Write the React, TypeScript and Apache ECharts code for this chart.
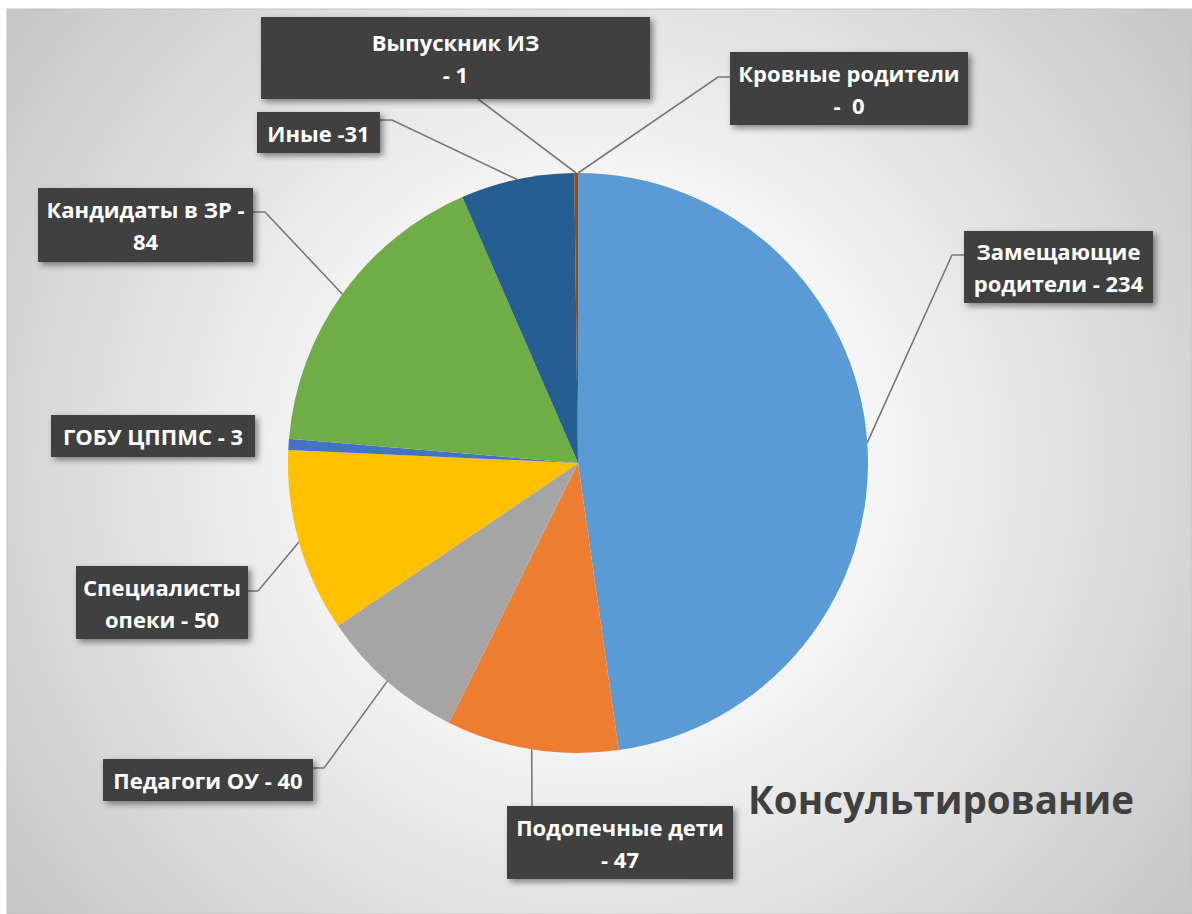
import React, { useEffect, useRef } from 'react';
import * as echarts from 'echarts';

// ---- data ----
const CATEGORIES = [
  'Замещающие родители',
  'Подопечные дети',
  'Педагоги ОУ',
  'Специалисты опеки',
  'ГОБУ ЦППМС',
  'Кандидаты в ЗР',
  'Иные',
  'Выпускник ИЗ',
  'Кровные родители',
];
const VALUES = [234, 47, 40, 50, 3, 84, 31, 1, 0];
const LABEL_TEMPLATES = [
  'Замещающие\nродители - {c}',
  'Подопечные дети\n- {c}',
  'Педагоги ОУ - {c}',
  'Специалисты\nопеки - {c}',
  'ГОБУ ЦППМС - {c}',
  'Кандидаты в ЗР -\n{c}',
  'Иные -{c}',
  'Выпускник ИЗ\n- {c}',
  'Кровные родители\n-  {c}',
];
const TITLE = 'Консультирование';

// ---- styles / layout ----
const COLORS = ['#5B9BD5', '#ED7D31', '#A5A5A5', '#FFC000', '#4472C4', '#70AD47', '#255E91', '#9E480E', '#636363'];
const FONT = '"Open Sans", "Noto Sans", sans-serif';
const LINE_H = 32;
// label boxes: [left, top, right, bottom]
const LABEL_BOXES: number[][] = [
  [964, 231, 1153, 303],
  [507, 806, 733, 879],
  [103, 759, 313, 801],
  [76, 566, 248, 639],
  [51, 415, 255, 457],
  [38, 188, 253, 262],
  [257, 112, 380, 153],
  [261, 17, 650, 99],
  [730, 52, 968, 125],
];
// leader line: bend point, end point (null = no leader)
const LEADERS: (number[][] | null)[] = [
  [[952, 255], [964, 255]],
  [[532, 806], [532, 806]],
  [[324, 768], [313, 768]],
  [[258, 591], [248, 591]],
  null,
  [[265, 212], [253, 212]],
  [[392, 120], [380, 120]],
  [[478, 99], [478, 99]],
  [[718, 77], [730, 77]],
];

export default function App() {
  const ref = useRef<HTMLDivElement>(null);
  useEffect(() => {
    if (!ref.current) return;
    const chart = echarts.init(ref.current, null, { renderer: 'svg' });
    const data = CATEGORIES.map((name, i) => {
      const b = LABEL_BOXES[i];
      const lines = LABEL_TEMPLATES[i].split('\n').length;
      const pv = (b[3] - b[1] - lines * LINE_H) / 2;
      return {
        name,
        value: VALUES[i],
        itemStyle: { color: COLORS[i] },
        label: { formatter: LABEL_TEMPLATES[i], width: b[2] - b[0], padding: [pv, 0, pv, 0] },
        labelLine: { show: LEADERS[i] != null },
      };
    });
    chart.setOption({
      animation: false,
      backgroundColor: '#ffffff',
      graphic: [
        {
          type: 'rect',
          silent: true,
          z: 0,
          shape: { x: 7, y: 9, width: 1185, height: 905 },
          style: {
            fill: new echarts.graphic.RadialGradient(600, 460, 760, [
              { offset: 0, color: '#ffffff' },
              { offset: 0.35, color: '#f6f6f6' },
              { offset: 1, color: '#c4c4c4' },
            ], true),
            stroke: '#c2c2c2',
            lineWidth: 1,
          },
        },
      ],
      title: {
        text: TITLE,
        left: 748,
        top: 779,
        padding: 0,
        textStyle: { fontFamily: FONT, fontSize: 38.5, fontWeight: 'bold', color: '#404040' },
      },
      series: [
        {
          type: 'pie',
          center: [578, 463],
          radius: 290,
          startAngle: 90,
          clockwise: true,
          avoidLabelOverlap: false,
          data,
          itemStyle: { borderWidth: 0 },
          label: {
            show: true,
            position: 'outside',
            color: '#ffffff',
            fontFamily: FONT,
            fontSize: 22,
            fontWeight: 'bold',
            lineHeight: LINE_H,
            align: 'center',
            backgroundColor: '#3f3f3f',
            shadowColor: 'rgba(0,0,0,0.45)',
            shadowBlur: 6,
            shadowOffsetX: 3,
            shadowOffsetY: 3,
          },
          labelLine: { show: true, lineStyle: { color: '#787878', width: 1.6 } },
          labelLayout: (params: any) => {
            const i = params.dataIndex;
            const b = LABEL_BOXES[i];
            const res: any = { x: (b[0] + b[2]) / 2, y: b[1], align: 'center', verticalAlign: 'top' };
            const L = LEADERS[i];
            if (L && params.labelLinePoints) {
              res.labelLinePoints = [params.labelLinePoints[0], L[0], L[1]];
            }
            return res;
          },
        },
      ],
    });
    return () => chart.dispose();
  }, []);
  return <div ref={ref} style={{ position: 'absolute', left: 0, top: 0, width: 1192, height: 914 }} />;
}
